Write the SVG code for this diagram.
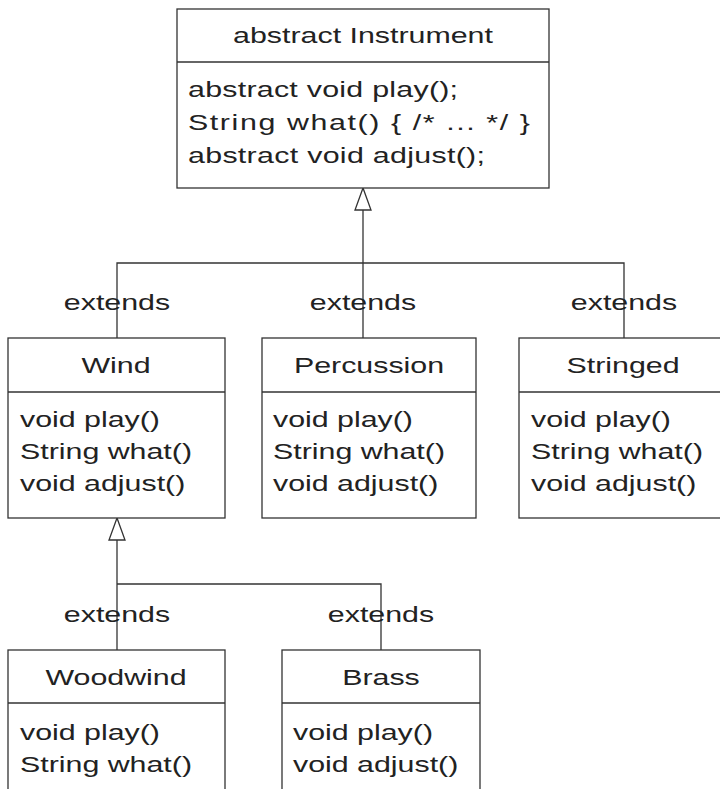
<svg xmlns="http://www.w3.org/2000/svg" width="720" height="789" viewBox="0 0 720 789">
<style>
.box{fill:#fff;stroke:#333;stroke-width:1.3}
.ln{fill:none;stroke:#333;stroke-width:1.3}
.tri{fill:#fff;stroke:#333;stroke-width:1.3}
text{font-family:"Liberation Sans",Arial,sans-serif;font-size:22px;fill:#222}
.c{text-anchor:middle}
</style>
<rect width="720" height="789" fill="#fff"/>
<g id="connectors">
<polygon class="tri" points="363,188 355,210 371,210"/>
<line class="ln" x1="363" y1="210" x2="363" y2="338"/>
<polyline class="ln" points="117,338 117,263 624,263 624,338"/>
<polygon class="tri" points="117,518 109,540 125,540"/>
<line class="ln" x1="117" y1="540" x2="117" y2="650"/>
<polyline class="ln" points="117,584 381,584 381,650"/>
<text class="c" transform="scale(1.38,1)" x="84.78" y="310">extends</text>
<text class="c" transform="scale(1.38,1)" x="263.04" y="310">extends</text>
<text class="c" transform="scale(1.38,1)" x="452.17" y="310">extends</text>
<text class="c" transform="scale(1.38,1)" x="84.78" y="622">extends</text>
<text class="c" transform="scale(1.38,1)" x="276.09" y="622">extends</text>
</g>
<g id="instrument">
<rect class="box" x="177" y="9" width="372" height="179"/>
<line class="ln" x1="177" y1="62" x2="549" y2="62"/>
<text class="c" transform="scale(1.38,1)" x="263.04" y="43">abstract Instrument</text>
<text transform="scale(1.38,1)" x="136.23" y="97" textLength="195.7">abstract void play();</text>
<text transform="scale(1.38,1)" x="136.23" y="130" textLength="247.8">String what() { /* ... */ }</text>
<text transform="scale(1.38,1)" x="136.23" y="163" textLength="215.2">abstract void adjust();</text>
</g>
<g id="wind">
<rect class="box" x="8" y="338" width="217" height="180"/>
<line class="ln" x1="8" y1="392" x2="225" y2="392"/>
<text class="c" transform="scale(1.38,1)" x="84.06" y="373">Wind</text>
<text transform="scale(1.38,1)" x="14.49" y="427">void play()</text>
<text transform="scale(1.38,1)" x="14.49" y="459">String what()</text>
<text transform="scale(1.38,1)" x="14.49" y="491">void adjust()</text>
</g>
<g id="percussion">
<rect class="box" x="262" y="338" width="214" height="180"/>
<line class="ln" x1="262" y1="392" x2="476" y2="392"/>
<text class="c" transform="scale(1.38,1)" x="267.39" y="373">Percussion</text>
<text transform="scale(1.38,1)" x="197.83" y="427">void play()</text>
<text transform="scale(1.38,1)" x="197.83" y="459">String what()</text>
<text transform="scale(1.38,1)" x="197.83" y="491">void adjust()</text>
</g>
<g id="stringed">
<rect class="box" x="519" y="338" width="210" height="180"/>
<line class="ln" x1="519" y1="392" x2="729" y2="392"/>
<text class="c" transform="scale(1.38,1)" x="451.45" y="373">Stringed</text>
<text transform="scale(1.38,1)" x="384.78" y="427">void play()</text>
<text transform="scale(1.38,1)" x="384.78" y="459">String what()</text>
<text transform="scale(1.38,1)" x="384.78" y="491">void adjust()</text>
</g>
<g id="woodwind">
<rect class="box" x="8" y="650" width="217" height="160"/>
<line class="ln" x1="8" y1="703" x2="225" y2="703"/>
<text class="c" transform="scale(1.38,1)" x="84.06" y="685">Woodwind</text>
<text transform="scale(1.38,1)" x="14.49" y="740">void play()</text>
<text transform="scale(1.38,1)" x="14.49" y="772">String what()</text>
</g>
<g id="brass">
<rect class="box" x="282" y="650" width="198" height="160"/>
<line class="ln" x1="282" y1="703" x2="480" y2="703"/>
<text class="c" transform="scale(1.38,1)" x="276.09" y="685">Brass</text>
<text transform="scale(1.38,1)" x="212.32" y="740">void play()</text>
<text transform="scale(1.38,1)" x="212.32" y="772">void adjust()</text>
</g>
</svg>
